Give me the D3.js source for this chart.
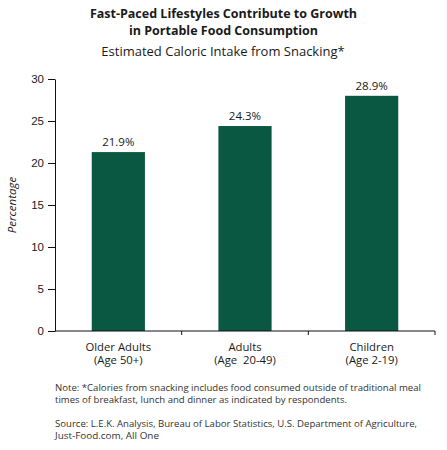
<!DOCTYPE html>
<html lang="en">
<head>
  <meta charset="UTF-8" />
  <title>Fast-Paced Lifestyles Contribute to Growth</title>
  <script src="https://d3js.org/d3.v7.min.js"></script>
  <style>
    body { margin:0; padding:0; background:#fff; font-family:"Open Sans", "Noto Sans", sans-serif; }
    svg { display:block; }
    .title { font-size:12.5px; font-weight:bold; fill:#1a1a1a; }
    .subtitle { font-size:13px; fill:#1a1a1a; }
    .tick text { font-size:11.5px; fill:#1a1a1a; }
    .vlabel { font-size:11.5px; fill:#1a1a1a; }
    .cat { font-size:11.3px; fill:#1a1a1a; white-space:pre; }
    .note { font-size:8.8px; fill:#333; }
  </style>
</head>
<body>
  <svg width="447" height="450"></svg>
  <script>
  // chart data
  const categories = ["Older Adults", "Adults", "Children"];
  const ageLabels  = ["(Age 50+)", "(Age  20-49)", "(Age 2-19)"];
  const barValues  = [21.3, 24.4, 28.0];
  const valueText  = ["21.9%", "24.3%", "28.9%"];
  const yTicks     = [0, 5, 10, 15, 20, 25, 30];
  const titleLines = ["Fast-Paced Lifestyles Contribute to Growth", "in Portable Food Consumption"];
  const subtitle   = "Estimated Caloric Intake from Snacking*";
  const noteLines  = [
    "Note: *Calories from snacking includes food consumed outside of traditional meal",
    "times of breakfast, lunch and dinner as indicated by respondents."
  ];
  const sourceLines = [
    "Source: L.E.K. Analysis, Bureau of Labor Statistics, U.S. Department of Agriculture,",
    "Just-Food.com, All One"
  ];
  // widths of the wrapped note lines as printed
  const noteWidths   = [366, 292];
  const sourceWidths = [362, 104];

  const svg = d3.select("svg");
  const M = { left:55, right:435, top:79, bottom:331 };

  const x = d3.scaleBand().domain(categories).range([M.left, M.right]).paddingInner(0.58).paddingOuter(0.29);
  const xb = d3.scaleBand().domain(categories).range([M.left, M.right]);
  const y = d3.scaleLinear().domain([0, 30]).range([M.bottom, M.top]);

  // titles
  svg.selectAll(".title").data(titleLines).enter().append("text")
    .attr("class", "title")
    .attr("x", 223.5)
    .attr("y", (d, i) => 18 + i * 17)
    .attr("text-anchor", "middle")
    .text(d => d);
  svg.append("text").attr("class", "subtitle")
    .attr("x", 223).attr("y", 56)
    .attr("text-anchor", "middle")
    .text(subtitle);

  // bars
  svg.selectAll(".bar").data(barValues).enter().append("rect")
    .attr("class", "bar")
    .attr("x", (d, i) => x(categories[i]))
    .attr("width", x.bandwidth())
    .attr("y", d => y(d))
    .attr("height", d => y(0) - y(d))
    .attr("fill", "#0b5842");

  svg.selectAll(".vlabel").data(barValues).enter().append("text")
    .attr("class", "vlabel")
    .attr("x", (d, i) => x(categories[i]) + x.bandwidth() / 2)
    .attr("y", d => y(d) - 6)
    .attr("text-anchor", "middle")
    .text((d, i) => valueText[i]);

  // y axis
  const yAxis = svg.append("g")
    .attr("transform", `translate(${M.left},0)`)
    .call(d3.axisLeft(y).tickValues(yTicks).tickSize(7).tickPadding(4).tickSizeOuter(0));
  yAxis.select(".domain").attr("stroke", "#111");
  yAxis.selectAll(".tick line").attr("stroke", "#111");
  yAxis.selectAll("text").attr("font-family", null).attr("font-size", null);

  // x axis: ticks at band boundaries
  svg.append("line")
    .attr("x1", M.left).attr("x2", M.right)
    .attr("y1", y(0)).attr("y2", y(0))
    .attr("stroke", "#111");
  svg.selectAll(".xtick").data(categories).enter().append("line")
    .attr("class", "xtick")
    .attr("x1", d => xb(d) + xb.bandwidth()).attr("x2", d => xb(d) + xb.bandwidth())
    .attr("y1", y(0)).attr("y2", y(0) + 4)
    .attr("stroke", "#111");

  // category labels, two lines each
  svg.selectAll(".catname").data(categories).enter().append("text")
    .attr("class", "cat catname")
    .attr("text-anchor", "middle")
    .attr("x", d => xb(d) + xb.bandwidth() / 2)
    .attr("y", 350.5)
    .text(d => d);
  svg.selectAll(".catage").data(categories).enter().append("text")
    .attr("class", "cat catage")
    .attr("text-anchor", "middle")
    .attr("x", d => xb(d) + xb.bandwidth() / 2)
    .attr("y", 364)
    .text((d, i) => ageLabels[i]);

  // y label
  svg.append("text")
    .attr("transform", `translate(16,${(M.top + M.bottom) / 2}) rotate(-90)`)
    .attr("text-anchor", "middle")
    .style("font-size", "11.5px")
    .style("font-style", "italic")
    .attr("fill", "#1a1a1a")
    .text("Percentage");

  // notes
  svg.selectAll(".noteline").data(noteLines).enter().append("text")
    .attr("class", "note noteline")
    .attr("x", 55)
    .attr("y", (d, i) => 390.5 + i * 12)
    .attr("textLength", (d, i) => noteWidths[i])
    .attr("lengthAdjust", "spacingAndGlyphs")
    .text(d => d);
  svg.selectAll(".srcline").data(sourceLines).enter().append("text")
    .attr("class", "note srcline")
    .attr("x", 55)
    .attr("y", (d, i) => 426.5 + i * 12)
    .attr("textLength", (d, i) => sourceWidths[i])
    .attr("lengthAdjust", "spacingAndGlyphs")
    .text(d => d);
  </script>
</body>
</html>
